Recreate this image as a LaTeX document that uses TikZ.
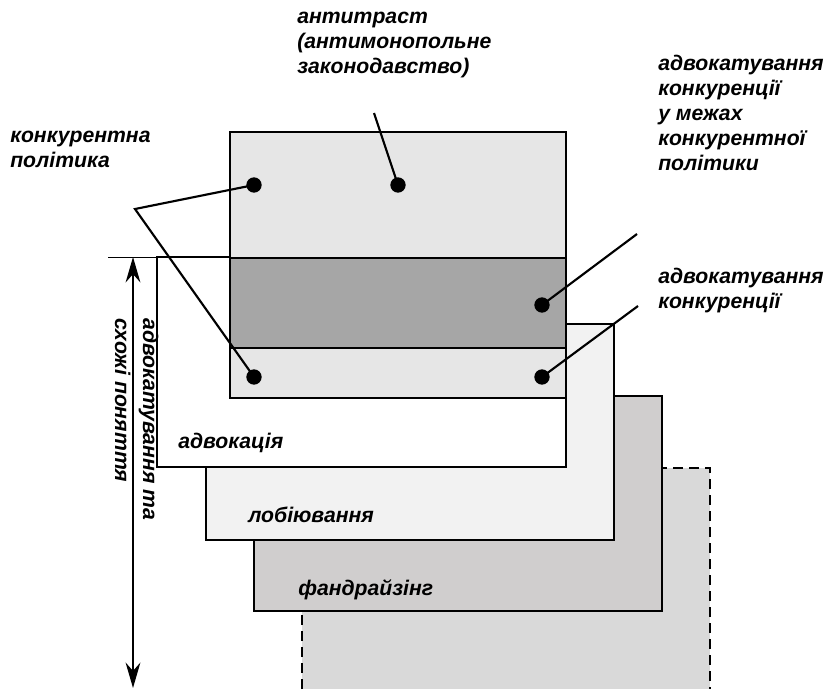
\documentclass[tikz,border=0pt]{standalone}
\usepackage{fontspec}
\setmainfont{Liberation Sans}
\usetikzlibrary{arrows.meta}
\definecolor{topgray}{HTML}{E6E6E6}
\definecolor{bandgray}{HTML}{A6A6A6}
\definecolor{lobgray}{HTML}{F2F2F2}
\definecolor{fundgray}{HTML}{D0CECE}
\definecolor{dashgray}{HTML}{D9D9D9}
\tikzset{
  box/.style={draw=black, line width=1.5pt},
  conn/.style={draw=black, line width=1.6pt},
  dot/.style={circle, fill=black, inner sep=0pt, minimum size=11.5pt},
  lbl/.style={font=\fontsize{15.9}{18.6}\selectfont\bfseries\itshape, inner sep=0pt, align=left, anchor=base west},
}
\begin{document}
\begin{tikzpicture}[x=0.75pt, y=-0.75pt]
\useasboundingbox (0,0) rectangle (827,689);
% dashed rectangle (bottom-most)
\fill[dashgray] (302,468) rectangle (710,689);
\draw[line width=1.5pt, dash pattern=on 7.5pt off 4.5pt] (302,689) -- (302,468) -- (710,468) -- (710,689);
% fundraising
\path[box, fill=fundgray] (254,396) rectangle (662,611);
% lobbying
\path[box, fill=lobgray] (206,324) rectangle (614,540);
% advocacy
\path[box, fill=white] (157,257) rectangle (566,467);
% competition policy
\path[box, fill=topgray] (230,132) rectangle (566,398);
\path[box, fill=bandgray] (230,258) rectangle (566,348);

% vertical measure
\draw[line width=0.6pt] (108,257) -- (157,257);
\draw[line width=2pt, {Stealth[length=19pt, width=11pt]}-{Stealth[length=19pt, width=11pt]}] (133,257) -- (133,688);

% dots
\node[dot] (d1) at (254,185) {};
\node[dot] (d2) at (398,185) {};
\node[dot] (d3) at (254,377) {};
\node[dot] (d4) at (542,377) {};
\node[dot] (d5) at (542,305) {};

% connector free ends
\coordinate (cp) at (135,209);
\coordinate (ca) at (374,113);
\coordinate (cb) at (637,234);
\coordinate (cc) at (638,306);

\draw[conn] (d1.center) -- (cp) -- (d3.center);
\draw[conn] (ca) -- (d2.center);
\draw[conn] (cb) -- (d5.center);
\draw[conn] (cc) -- (d4.center);

% labels (anchor = baseline of the last line)
\node[lbl] (tanti) at (297,73) {антитраст\\(антимонопольне\\законодавство)};
\node[lbl] (tpol) at (10,167) {конкурентна\\політика};
\node[lbl] (tadvp) at (658,170) {адвокатування\\конкуренції\\у межах\\конкурентної\\політики};
\node[lbl] (tadv) at (658,308) {адвокатування\\конкуренції};
\node[lbl] (tadvo) at (178,448) {адвокація};
\node[lbl] (tlob) at (248,522) {лобіювання};
\node[lbl] (tfund) at (298,595) {фандрайзінг};
\node[lbl, rotate=-90, font=\fontsize{15.9}{21}\selectfont\bfseries\itshape] (tvert) at (115,318) {адвокатування та\\схожі поняття};
\end{tikzpicture}
\end{document}
